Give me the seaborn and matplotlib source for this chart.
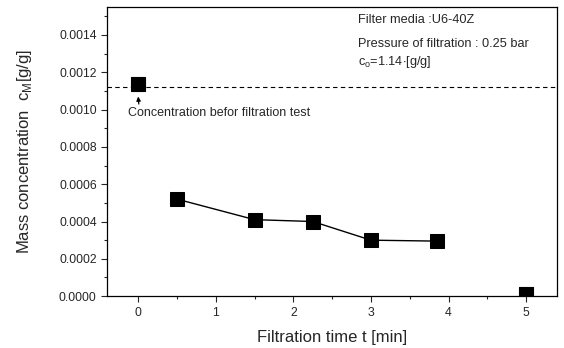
import matplotlib
matplotlib.use("Agg")
import matplotlib.pyplot as plt
import seaborn as sns
import pandas as pd
from matplotlib.ticker import MultipleLocator, FormatStrFormatter

sns.set_style("ticks")
plt.rcParams['font.family'] = ['Liberation Sans', 'DejaVu Sans']
plt.rcParams['mathtext.fontset'] = 'custom'
plt.rcParams['mathtext.rm'] = 'Liberation Sans'

# Data
time_line = [0.5, 1.5, 2.25, 3.0, 3.85]
conc_line = [0.00052, 0.00041, 0.00040, 0.00030, 0.000295]
time_single = [0.0, 5.0]
conc_single = [0.001137, 0.00001]
initial_conc = 0.00112

df_line = pd.DataFrame({"t": time_line, "c": conc_line})
df_single = pd.DataFrame({"t": time_single, "c": conc_single})

fig = plt.figure(figsize=(5.64, 3.48), dpi=100)
ax = fig.add_axes([0.19, 0.149, 0.798, 0.831])

sns.lineplot(data=df_line, x="t", y="c", ax=ax, color="black", lw=1.0,
             marker="s", markersize=10, markeredgecolor="black", markerfacecolor="black")
sns.scatterplot(data=df_single, x="t", y="c", ax=ax, color="black", marker="s",
                s=100, edgecolor="black", zorder=3)
ax.axhline(initial_conc, color="black", ls=(0, (4, 3)), lw=0.8)

ax.annotate("Concentration befor filtration test", xy=(0.0, 0.00107), xytext=(-0.13, 0.00098),
            fontsize=9, ha="left", va="center",
            arrowprops=dict(arrowstyle="-|>", color="black", lw=0.9, mutation_scale=6,
                            shrinkA=0, shrinkB=0, relpos=(0.06, 1.0)))

ax.text(2.83, 0.00148, "Filter media :U6-40Z", fontsize=9.2, va="center")
ax.text(2.83, 0.00135, "Pressure of filtration : 0.25 bar", fontsize=9.2, va="center")
ax.text(2.83, 0.00121, r"c$_\mathregular{o}$=1.14$\cdot$[g/g]", fontsize=9.2, va="bottom")

ax.set_xlim(-0.4, 5.4)
ax.set_ylim(0, 0.00155)
ax.xaxis.set_major_locator(MultipleLocator(1))
ax.xaxis.set_minor_locator(MultipleLocator(0.5))
ax.yaxis.set_major_locator(MultipleLocator(0.0002))
ax.yaxis.set_minor_locator(MultipleLocator(0.0001))
ax.yaxis.set_major_formatter(FormatStrFormatter("%.4f"))
ax.tick_params(axis="both", which="major", labelsize=8.8, length=4, direction="out", width=0.8)
ax.tick_params(axis="both", which="minor", length=2.5, direction="out", width=0.8)

ax.set_xlabel("Filtration time t [min]", fontsize=12, labelpad=8)
ax.set_ylabel(r"Mass concentration  c$_\mathregular{M}$[g/g]", fontsize=12, labelpad=18)
for s in ax.spines.values():
    s.set_visible(True)
    s.set_linewidth(0.9)
    s.set_color("black")

fig.savefig("out.png", dpi=100)
